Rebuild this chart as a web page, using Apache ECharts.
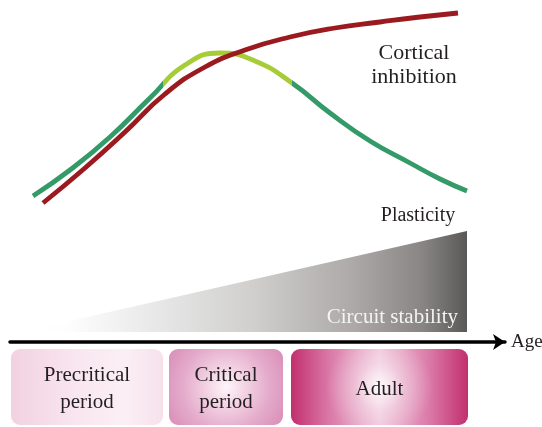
<!DOCTYPE html>
<html>
<head>
<meta charset="utf-8">
<script src="https://cdn.jsdelivr.net/npm/echarts@6/dist/echarts.min.js"></script>
<style>html,body{margin:0;padding:0;background:#fff;}#c{width:542px;height:427px;}</style>
</head>
<body>
<div id="c"></div>
<script>
// ---- data (age on x, level on y) ----
const inhibitionAge   = [33, 75, 115, 155, 195, 235, 280, 325, 370, 410, 448];
const inhibitionLevel = [139, 174, 210, 248, 275, 292, 305, 314, 320, 325, 329];
const plasticityAge   = [23, 60, 100, 140, 175, 210, 245, 282, 320, 360, 400, 430, 457];
const plasticityLevel = [146, 172, 205, 244, 277, 289, 281, 259, 229, 201, 179, 163, 151];
const criticalStart = 153, criticalEnd = 282;
const stabilityAge   = [11, 457, 457];
const stabilityLevel = [10, 111, 10];
const periodNames = ['Precritical\nperiod', 'Critical\nperiod', 'Adult'];
const periodStart = [1, 159, 281];
const periodEnd   = [153, 273, 458];

const FONT = '"Liberation Serif", "DejaVu Serif", serif';
const TXT = '#231f20';

const chart = echarts.init(document.getElementById('c'), null, {renderer: 'canvas'});

const zip = (a, b) => a.map((v, i) => [v, b[i]]);

const boxFills = [
  new echarts.graphic.LinearGradient(0, 0, 1, 0, [
    {offset: 0, color: '#f2d1e1'}, {offset: 0.45, color: '#f9e7f0'},
    {offset: 0.75, color: '#fbeff5'}, {offset: 1, color: '#f6e1eb'}]),
  new echarts.graphic.RadialGradient(0.5, 0.5, 0.95, [
    {offset: 0, color: '#fdf5f9'}, {offset: 0.25, color: '#f4d5e5'},
    {offset: 0.6, color: '#e4abcb'}, {offset: 1, color: '#d788b4'}]),
  new echarts.graphic.LinearGradient(0, 0, 1, 0, [
    {offset: 0, color: '#c22f6e'}, {offset: 0.22, color: '#da7aa8'},
    {offset: 0.5, color: '#efc3d9'}, {offset: 0.78, color: '#da7aa8'},
    {offset: 1, color: '#c22f6e'}])
];

const option = {
  animation: false,
  grid: {left: 10, top: 0, width: 495, height: 342, containLabel: false, outerBoundsMode: 'none'},
  xAxis: {
    type: 'value', min: 0, max: 495,
    axisLine: {show: true, lineStyle: {color: '#000', width: 3.5}, symbol: ['none', 'arrow'], symbolSize: [12, 12]},
    axisTick: {show: false}, axisLabel: {show: false}, splitLine: {show: false},
    name: 'Age', nameLocation: 'end', nameGap: 6,
    nameTextStyle: {fontFamily: FONT, fontSize: 19, color: TXT, verticalAlign: 'middle'}
  },
  yAxis: {type: 'value', min: 0, max: 342, show: false},
  visualMap: {
    show: false, type: 'piecewise', seriesIndex: 2, dimension: 0,
    pieces: [
      {lt: criticalStart, color: '#339a68'},
      {gte: criticalStart, lte: criticalEnd, color: '#a6cd37'},
      {gt: criticalEnd, color: '#339a68'}
    ]
  },
  series: [
    {
      type: 'custom', silent: true, clip: false, z: 1,
      data: [[0]],
      renderItem: function (params, api) {
        const pts = stabilityAge.map((a, i) => api.coord([a, stabilityLevel[i]]));
        return {
          type: 'polygon',
          shape: {points: pts},
          style: {
            fill: new echarts.graphic.LinearGradient(0, 0, 1, 0, [
              {offset: 0, color: '#ffffff'}, {offset: 0.1, color: '#fefefe'},
              {offset: 0.2, color: '#f3f3f3'}, {offset: 0.32, color: '#e6e6e6'},
              {offset: 0.52, color: '#d0cfce'},
              {offset: 0.74, color: '#adaaa9'}, {offset: 0.9, color: '#888584'},
              {offset: 1, color: '#5b5957'}])
          }
        };
      }
    },
    {
      type: 'custom', silent: true, clip: false, z: 1,
      data: periodStart.map((s, i) => [s, periodEnd[i], i]),
      renderItem: function (params, api) {
        const i = api.value(2);
        const p0 = api.coord([api.value(0), -7]);
        const p1 = api.coord([api.value(1), -83]);
        const x = p0[0], y = p0[1], w = p1[0] - p0[0], h = p1[1] - p0[1];
        const children = [{type: 'rect', shape: {x: x, y: y, width: w, height: h, r: 9}, style: {fill: boxFills[i]}}];
        if (i === 2) {
          children.push({type: 'rect', shape: {x: x, y: y, width: w, height: h, r: 9},
            style: {fill: new echarts.graphic.RadialGradient(0.5, 0.5, 0.7, [
              {offset: 0, color: 'rgba(255,255,255,0.9)'}, {offset: 0.45, color: 'rgba(255,255,255,0.35)'},
              {offset: 1, color: 'rgba(255,255,255,0)'}])}});
        }
        children.push({type: 'text', x: x + w / 2, y: y + h / 2 + 2,
          style: {text: periodNames[i], fontFamily: FONT, fontSize: 21, lineHeight: 27,
            fill: TXT, align: 'center', verticalAlign: 'middle'}});
        return {type: 'group', children: children};
      }
    },
    {
      name: 'Plasticity', type: 'line', smooth: 0.5, showSymbol: false, z: 3,
      data: zip(plasticityAge, plasticityLevel),
      lineStyle: {width: 4.8, cap: 'butt'}
    },
    {
      name: 'Cortical inhibition', type: 'line', smooth: 0.5, showSymbol: false, z: 4,
      data: zip(inhibitionAge, inhibitionLevel),
      lineStyle: {width: 4.8, color: '#9b1a1f', cap: 'butt'}, itemStyle: {color: '#9b1a1f'}
    }
  ],
  graphic: [
    {type: 'text', x: 414, y: 65, z: 10, style: {text: 'Cortical\ninhibition', fontFamily: FONT, fontSize: 22, lineHeight: 24, fill: TXT, align: 'center', verticalAlign: 'middle'}},
    {type: 'text', x: 418, y: 216, z: 10, style: {text: 'Plasticity', fontFamily: FONT, fontSize: 20, fill: TXT, align: 'center', verticalAlign: 'middle'}},
    {type: 'text', x: 458, y: 317, z: 10, style: {text: 'Circuit stability', fontFamily: FONT, fontSize: 21, fill: '#f4f4f4', align: 'right', verticalAlign: 'middle'}}
  ]
};
chart.setOption(option);
</script>
</body>
</html>
